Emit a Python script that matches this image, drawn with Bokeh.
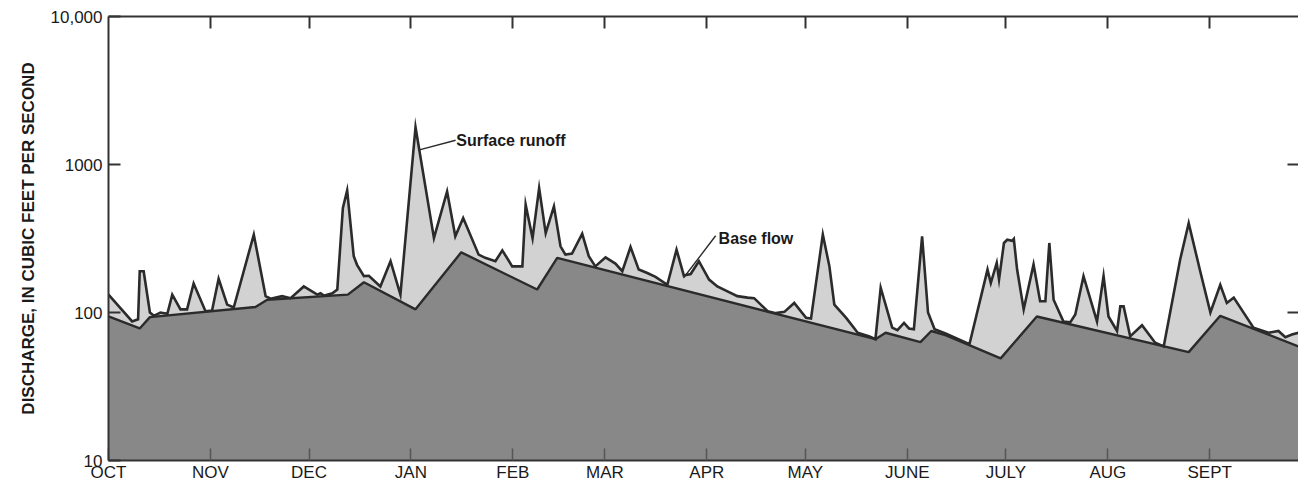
from bokeh.plotting import figure
from bokeh.models import Range1d, LogAxis, LinearAxis, FixedTicker
from bokeh.core.properties import value
from bokeh.embed import file_html
from bokeh.resources import INLINE

# Water year, day 0 = 1 October. Discharge in cubic feet per second.
month_days = [0, 31, 61, 92, 123, 151, 182, 212, 243, 273, 304, 335]
month_names = ["OCT", "NOV", "DEC", "JAN", "FEB", "MAR", "APR", "MAY",
               "JUNE", "JULY", "AUG", "SEPT"]

# Total streamflow hydrograph (surface runoff + base flow)
total_day = [0, 7.2, 9.0, 9.5, 10.7, 12.6, 13.8, 15.8, 17.9, 19.4, 21.9, 23.9,
             25.9, 29.5, 31.5, 33.5, 36.1, 38.1, 44.2, 47.8, 49.3, 52.8, 55.4,
             59.4, 63.5, 64.5, 65.5, 68.1, 69.6, 71.3, 72.6, 74.6, 75.6, 77.7,
             79.2, 82.7, 85.8, 88.8, 93.4, 99.0, 103.0, 105.5, 107.9, 112.6,
             114.6, 117.7, 119.8, 122.8, 125.9, 126.9, 129.0, 131.0, 133.0,
             135.5, 137.5, 139.0, 141.0, 144.1, 146.1, 148.1, 151.2, 154.2,
             156.3, 158.8, 161.3, 163.9, 166.4, 170.0, 172.8, 175.0, 177.1,
             179.6, 182.7, 185.2, 188.3, 191.3, 194.4, 196.4, 200.5, 203.0,
             205.6, 208.6, 212.2, 213.7, 217.3, 219.3, 220.8, 224.4, 227.9,
             231.5, 233.3, 234.9, 238.4, 240.0, 242.0, 243.5, 245.0, 247.5,
             249.3, 251.3, 254.8, 261.9, 267.4, 268.4, 270.2, 270.9, 272.4,
             273.4, 274.9, 275.4, 276.4, 278.4, 281.4, 283.4, 285.0, 286.2,
             287.5, 290.5, 292.6, 294.1, 296.6, 300.7, 302.7, 304.2, 306.8,
             307.8, 308.8, 310.8, 314.4, 318.4, 321.0, 326.0, 328.6, 332.1,
             335.2, 338.2, 340.2, 342.3, 348.3, 352.9, 355.9, 358.0, 360.0, 362.0]
total_cfs = [132, 87, 90, 190, 190, 100, 95, 100, 98, 132, 105, 105,
             157, 102, 103, 169, 113, 108, 336, 129, 124, 129, 125,
             150, 132, 135, 130, 135, 143, 508, 668, 240, 210, 176,
             177, 150, 222, 132, 1786, 318, 658, 327, 435, 246,
             234, 222, 263, 205, 205, 535, 318, 692, 344,
             521, 280, 246, 250, 341, 240, 205, 236, 214,
             190, 277, 195, 185, 174, 154, 266, 178, 182,
             222, 167, 150, 139, 129, 126, 125, 102, 99,
             101, 116, 92, 91, 336, 205, 113, 92, 73,
             69, 66, 147, 79, 76, 85, 78, 77, 327,
             100, 77, 72, 61, 195, 158, 216, 167, 295,
             310, 305, 314, 195, 105, 211, 119, 119, 295,
             122, 87, 86, 97, 176, 87, 176, 94, 75,
             110, 110, 69, 82, 62.5, 59, 228, 402, 190,
             100, 154, 116, 126, 79, 73, 75, 68, 71, 73]

# Base-flow separation line
base_day = [0, 9.5, 12.6, 44.7, 48.3, 72.8, 77.7, 93.4, 107.3, 130.4, 136.5,
            233.3, 236.4, 247.0, 250.3, 254.8, 271.4, 282.4, 328.6, 338.2, 362.0]
base_cfs = [94, 78, 93, 109, 122, 132, 160, 105, 255, 143, 234,
            66, 73, 63, 75, 70, 49, 94, 54, 95, 59]

# Callout labels and their leader lines
label_text = ["Surface runoff", "Base flow"]
label_day = [105.8, 185.6]
label_cfs = [1450, 318]
leader_day = [[94.3, 105.6], [174.9, 184.7]]
leader_cfs = [[1250, 1459], [171, 330]]

INK = "#2b2b2b"
LIGHT = "#d2d2d2"
DARK = "#888888"
FONT = "Liberation Sans"

p = figure(width=1298, height=484, y_axis_type="log",
           x_range=Range1d(0, 362), y_range=Range1d(10, 10000),
           output_backend="svg", toolbar_location=None,
           min_border_left=108, min_border_right=0,
           min_border_top=16, min_border_bottom=23)
p.outline_line_color = None
p.grid.visible = False
p.background_fill_color = "white"
p.border_fill_color = "white"

# surface runoff (light) then base flow (dark) over it
p.varea(x=total_day, y1=10, y2=total_cfs, fill_color=LIGHT)
p.varea(x=base_day, y1=10, y2=base_cfs, fill_color=DARK)
p.line(total_day, total_cfs, line_color=INK, line_width=2.6, line_join="miter")
p.line(base_day, base_cfs, line_color=INK, line_width=2.4)

for xs, ys in zip(leader_day, leader_cfs):
    p.line(xs, ys, line_color=INK, line_width=1.4)
p.text(x=label_day, y=label_cfs, text=label_text,
       text_font=value(FONT), text_font_style="bold",
       text_font_size="16px", text_color="#1a1a1a",
       text_baseline="middle", text_align="left")

# left axis
ya = p.yaxis[0]
ya.ticker = FixedTicker(ticks=[10, 100, 1000, 10000])
ya.major_label_overrides = {10: "10", 100: "100", 1000: "1000", 10000: "10,000"}
ya.major_tick_in = 12
ya.major_tick_out = 0
ya.minor_tick_in = 0
ya.minor_tick_out = 0
ya.axis_line_color = "#333333"
ya.axis_line_width = 2
ya.major_tick_line_color = "#333333"
ya.major_tick_line_width = 2
ya.major_label_text_font = FONT
ya.major_label_text_font_size = "17px"
ya.major_label_text_color = "#1a1a1a"
ya.major_label_standoff = 6
ya.axis_label = "DISCHARGE, IN CUBIC FEET PER SECOND"
ya.axis_label_text_font = FONT
ya.axis_label_text_font_style = "bold"
ya.axis_label_text_font_size = "17px"
ya.axis_label_text_color = "#1a1a1a"
ya.axis_label_standoff = 10

# bottom axis
xa = p.xaxis[0]
xa.ticker = FixedTicker(ticks=month_days)
xa.major_label_overrides = dict(zip(month_days, month_names))
xa.major_tick_in = 12
xa.major_tick_out = 0
xa.minor_tick_in = 0
xa.minor_tick_out = 0
xa.axis_line_color = "#333333"
xa.axis_line_width = 2
xa.major_tick_line_color = "#555555"
xa.major_tick_line_width = 1.5
xa.major_label_text_font = FONT
xa.major_label_text_font_size = "17px"
xa.major_label_text_color = "#1a1a1a"
xa.major_label_standoff = 2

# top border with month ticks (labels hidden)
top = LinearAxis(ticker=FixedTicker(ticks=month_days[1:]),
                 major_tick_in=12, major_tick_out=0,
                 minor_tick_in=0, minor_tick_out=0,
                 axis_line_color="#333333", axis_line_width=2,
                 major_tick_line_color="#333333", major_tick_line_width=2,
                 major_label_text_font_size="1px", major_label_text_alpha=0,
                 major_label_standoff=0)
p.add_layout(top, "above")

# right side: inward ticks only
right = LogAxis(ticker=FixedTicker(ticks=[100, 1000]),
                major_tick_in=11, major_tick_out=0,
                minor_tick_in=0, minor_tick_out=0,
                axis_line_alpha=0,
                major_tick_line_color="#333333", major_tick_line_width=2,
                major_label_text_font_size="1px", major_label_text_alpha=0,
                major_label_standoff=0)
p.add_layout(right, "right")

open("out.html", "w").write(file_html(p, INLINE))
